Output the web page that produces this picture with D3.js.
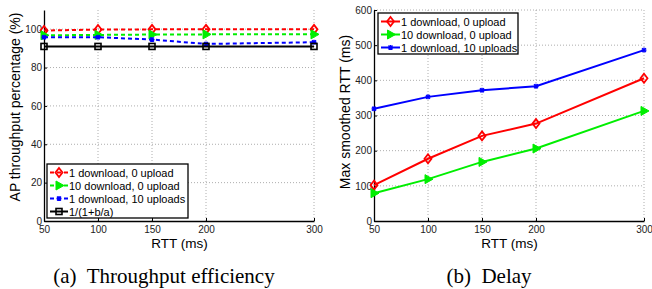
<!DOCTYPE html>
<html>
<head>
<meta charset="utf-8">
<script src="https://cdn.jsdelivr.net/npm/d3@7"></script>
<style>
  body { margin: 0; background: #fff; }
  svg { display: block; }
  .tick text { font-family: "Liberation Sans", Arial, sans-serif; font-size: 10px; fill: #222; }
</style>
</head>
<body>
<svg id="chart" width="652" height="289"></svg>
<script>
// data
var rtt = [50, 100, 150, 200, 300]
var seriesNames = ['1 download, 0 upload', '10 download, 0 upload', '1 download, 10 uploads', '1/(1+b/a)']

var effOneDown = [99.3, 99.8, 99.9, 99.9, 99.9]
var effTenDown = [96.8, 97.0, 97.2, 97.3, 97.3]
var effTenUp = [95.8, 95.8, 94.6, 92.3, 93.2]
var effBound = [91, 91, 91, 91, 91]

var delayOneDown = [102, 177, 242, 277, 406]
var delayTenDown = [79, 119, 168, 206, 313]
var delayTenUp = [319, 353, 372, 383, 486]

var xTicks = [50, 100, 150, 200, 300]
var effTicks = [0, 20, 40, 60, 80, 100]
var delayTicks = [0, 100, 200, 300, 400, 500, 600]

var colors = ['#ff0000', '#00ee00', '#0000ff', '#000000']
var markers = ['diamond', 'triangle', 'star', 'square']

var svg = d3.select('#chart')

function drawMarker (g, type, color, x, y) {
  if (type === 'diamond') {
    g.append('path')
      .attr('d', 'M' + x + ',' + (y - 4.5) + 'L' + (x + 3.5) + ',' + y + 'L' + x + ',' + (y + 4.5) + 'L' + (x - 3.5) + ',' + y + 'Z')
      .attr('fill', 'none').attr('stroke', color).attr('stroke-width', 1.8)
  } else if (type === 'triangle') {
    g.append('path')
      .attr('d', 'M' + (x - 3) + ',' + (y - 4.5) + 'L' + (x + 5) + ',' + y + 'L' + (x - 3) + ',' + (y + 4.5) + 'Z')
      .attr('fill', color).attr('stroke', color).attr('stroke-width', 1)
  } else if (type === 'star') {
    g.append('path')
      .attr('d', 'M' + (x - 2.5) + ',' + y + 'L' + (x + 2.5) + ',' + y +
        'M' + x + ',' + (y - 2.5) + 'L' + x + ',' + (y + 2.5) +
        'M' + (x - 2) + ',' + (y - 2) + 'L' + (x + 2) + ',' + (y + 2) +
        'M' + (x - 2) + ',' + (y + 2) + 'L' + (x + 2) + ',' + (y - 2))
      .attr('stroke', color).attr('stroke-width', 1.3)
  } else {
    g.append('rect')
      .attr('x', x - 3).attr('y', y - 3).attr('width', 6).attr('height', 6)
      .attr('fill', 'none').attr('stroke', color).attr('stroke-width', 1.6)
  }
}

function makePanel (opts) {
  var left = opts.left, right = opts.right, top = 10, bottom = 221
  var g = svg.append('g')

  var x = d3.scaleLinear().domain([50, 300]).range([left, right])
  var y = d3.scaleLinear().domain(opts.yDomain).range([bottom, top])

  // dotted grid
  g.append('g').selectAll('line.gx')
    .data(xTicks.slice(1))
    .enter().append('line')
    .attr('x1', d => x(d)).attr('x2', d => x(d))
    .attr('y1', top).attr('y2', bottom)
    .attr('stroke', '#999').attr('stroke-width', 0.8).attr('stroke-dasharray', '1,2')
  g.append('g').selectAll('line.gy')
    .data(opts.yTicks.slice(1))
    .enter().append('line')
    .attr('x1', left).attr('x2', right)
    .attr('y1', d => y(d)).attr('y2', d => y(d))
    .attr('stroke', '#999').attr('stroke-width', 0.8).attr('stroke-dasharray', '1,2')

  // axes
  var xAxis = g.append('g')
    .attr('transform', 'translate(0,' + bottom + ')')
    .call(d3.axisBottom(x).tickValues(xTicks).tickSize(-3).tickPadding(5).tickSizeOuter(0))
  xAxis.select('.domain').attr('stroke', '#000').attr('stroke-width', 1.3)
  xAxis.selectAll('.tick line').attr('stroke', '#000')

  var yAxis = g.append('g')
    .attr('transform', 'translate(' + left + ',0)')
    .call(d3.axisLeft(y).tickValues(opts.yTicks).tickSize(-3).tickPadding(2).tickSizeOuter(0))
  yAxis.select('.domain').attr('stroke', '#000').attr('stroke-width', 1.3)
  yAxis.selectAll('.tick line').attr('stroke', '#000')

  g.append('text')
    .attr('x', (left + right) / 2 + 0.5).attr('y', 247.5)
    .attr('text-anchor', 'middle')
    .style('font-family', '"Liberation Sans", Arial, sans-serif').style('font-size', '13.5px')
    .text('RTT (ms)')

  g.append('text')
    .attr('transform', 'translate(' + opts.yLabelX + ',' + opts.yLabelY + ') rotate(-90)')
    .attr('text-anchor', 'middle')
    .style('font-family', '"Liberation Sans", Arial, sans-serif').style('font-size', '14px')
    .text(opts.yLabel)

  g.append('text')
    .attr('x', opts.captionX).attr('y', 283)
    .attr('text-anchor', 'middle')
    .style('white-space', 'pre')
    .style('font-family', '"Liberation Serif", "Times New Roman", serif').style('font-size', '21px')
    .text(opts.caption)

  var line = d3.line().x((d, i) => x(rtt[i])).y(d => y(d))

  opts.series.forEach(function (s) {
    var idx = s.idx
    g.append('path')
      .datum(s.values)
      .attr('d', line)
      .attr('fill', 'none')
      .attr('stroke', colors[idx])
      .attr('stroke-width', 2)
      .attr('stroke-dasharray', opts.dashed && idx !== 3 ? '4,3' : null)
    s.values.forEach(function (v, i) {
      drawMarker(g, markers[idx], colors[idx], x(rtt[i]), y(v))
    })
  })

  // legend
  var lg = g.append('g')
  var lb = opts.legend
  lg.append('rect')
    .attr('x', lb.x).attr('y', lb.y).attr('width', lb.w).attr('height', lb.rows * 13 + 2)
    .attr('fill', '#fff').attr('stroke', '#000').attr('stroke-width', 1.3)
  opts.series.forEach(function (s, k) {
    var idx = s.idx
    var ly = lb.y + 8.5 + k * 13
    lg.append('line')
      .attr('x1', lb.x + 3).attr('x2', lb.x + lb.sample)
      .attr('y1', ly).attr('y2', ly)
      .attr('stroke', colors[idx]).attr('stroke-width', 2)
      .attr('stroke-dasharray', opts.dashed && idx !== 3 ? '4,3' : null)
    drawMarker(lg, markers[idx], colors[idx], lb.x + 3 + (lb.sample - 3) / 2, ly)
    lg.append('text')
      .attr('x', lb.x + lb.sample + 1).attr('y', ly + 4)
      .style('font-family', '"Liberation Sans", Arial, sans-serif').style('font-size', '11px')
      .text(seriesNames[idx])
  })
}

makePanel({
  left: 44, right: 314,
  yDomain: [0, 110], yTicks: effTicks,
  yLabel: 'AP throughput percentage (%)', yLabelX: 19.5, yLabelY: 107,
  caption: '(a)  Throughput efficiency', captionX: 164,
  dashed: true,
  series: [
    { idx: 0, values: effOneDown },
    { idx: 1, values: effTenDown },
    { idx: 2, values: effTenUp },
    { idx: 3, values: effBound }
  ],
  legend: { x: 47, y: 164, w: 141, rows: 4, sample: 21 }
})

makePanel({
  left: 374, right: 644,
  yDomain: [0, 600], yTicks: delayTicks,
  yLabel: 'Max smoothed RTT (ms)', yLabelX: 349.5, yLabelY: 112,
  caption: '(b)  Delay', captionX: 489,
  dashed: false,
  series: [
    { idx: 0, values: delayOneDown },
    { idx: 1, values: delayTenDown },
    { idx: 2, values: delayTenUp }
  ],
  legend: { x: 378, y: 13, w: 140, rows: 3, sample: 22 }
})
</script>
</body>
</html>
